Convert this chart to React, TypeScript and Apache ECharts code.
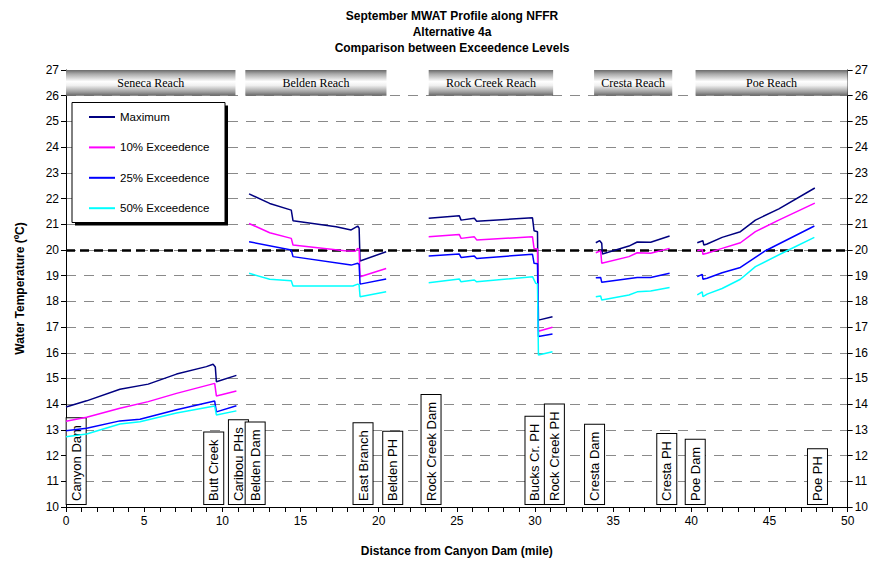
import React, { useEffect, useRef } from 'react';
import * as echarts from 'echarts';

const FONT = '"Liberation Sans", Arial, sans-serif';
const SERIF = '"Liberation Serif", "Times New Roman", serif';

const titleLines = ['September MWAT Profile along NFFR', 'Alternative 4a', 'Comparison between Exceedence Levels'];
const xAxisName = 'Distance from Canyon Dam (mile)';
const yAxisName = 'Water Temperature (ºC)';

const seriesNames = ['Maximum', '10% Exceedence', '25% Exceedence', '50% Exceedence'];
const seriesColors = ['#000080', '#ff00ff', '#0000ff', '#00ffff'];

const threshold = 20;
const yMin = 10;
const yMax = 27;

// [mile, temperature] points per reach segment
const maximumSegments = [
  [[0, 13.89], [1.32, 14.13], [3.45, 14.58], [5.26, 14.78], [7.07, 15.17], [8.98, 15.46], [9.41, 15.55], [9.55, 15.45], [9.62, 14.87], [10.9, 15.12]],
  [[11.71, 22.18], [13.03, 21.81], [14.41, 21.55], [14.52, 21.14], [17.28, 20.9], [18.24, 20.78], [18.66, 20.93], [18.75, 20.85], [18.81, 19.57], [20.48, 19.93]],
  [[23.2, 21.23], [25.16, 21.33], [25.27, 21.16], [26.12, 21.23], [26.27, 21.12], [29.84, 21.25], [29.94, 20.75], [30.16, 20.71], [30.22, 17.27], [31.12, 17.4]],
  [[33.89, 20.28], [34.14, 20.36], [34.27, 20.26], [34.31, 19.84], [36.01, 20.15], [36.54, 20.31], [37.4, 20.3], [38.61, 20.54]],
  [[40.38, 20.28], [40.74, 20.36], [40.8, 20.19], [41.01, 20.23], [41.97, 20.49], [43.14, 20.71], [44.1, 21.16], [45.6, 21.6], [47.9, 22.41]],
];
const exceed10Segments = [
  [[0, 13.34], [1.32, 13.49], [3.45, 13.84], [5.26, 14.1], [7.07, 14.42], [9.51, 14.81], [9.62, 14.32], [10.9, 14.51]],
  [[11.71, 21.03], [13.03, 20.67], [14.41, 20.45], [14.52, 20.19], [17.82, 19.97], [18.5, 19.95], [18.66, 20.06], [18.75, 20.03], [18.81, 18.96], [20.48, 19.28]],
  [[23.2, 20.51], [25.16, 20.6], [25.27, 20.45], [26.12, 20.51], [26.27, 20.39], [29.84, 20.51], [29.94, 20.06], [30.16, 20.04], [30.22, 16.84], [31.12, 16.99]],
  [[33.89, 19.89], [34.2, 19.97], [34.27, 19.48], [36.01, 19.74], [36.54, 19.89], [37.4, 19.87], [38.61, 20.06]],
  [[40.38, 19.97], [40.7, 20.02], [40.74, 19.83], [41.01, 19.87], [41.97, 20.06], [43.14, 20.28], [44.1, 20.71], [45.59, 21.16], [47.9, 21.82]],
];
const exceed25Segments = [
  [[0, 12.97], [1.32, 13.06], [3.45, 13.35], [4.73, 13.41], [7.07, 13.78], [9.51, 14.12], [9.62, 13.7], [10.9, 13.94]],
  [[11.71, 20.32], [14.41, 20.0], [14.52, 19.74], [18.24, 19.41], [18.66, 19.48], [18.75, 19.44], [18.81, 18.67], [20.48, 18.87]],
  [[23.2, 19.76], [25.16, 19.84], [25.27, 19.71], [26.12, 19.76], [26.27, 19.67], [29.84, 19.83], [29.94, 19.48], [30.16, 19.46], [30.22, 16.63], [31.12, 16.73]],
  [[33.89, 18.92], [34.2, 18.93], [34.27, 18.74], [36.54, 18.93], [37.4, 18.93], [38.61, 19.09]],
  [[40.38, 18.96], [40.7, 19.05], [40.74, 18.86], [41.01, 18.9], [41.97, 19.11], [43.14, 19.32], [44.1, 19.71], [44.74, 19.97], [47.87, 20.93]],
];
const exceed50Segments = [
  [[0, 12.73], [1.32, 12.84], [3.45, 13.23], [4.73, 13.32], [7.07, 13.66], [9.51, 13.93], [9.62, 13.58], [10.9, 13.74]],
  [[11.71, 19.09], [13.03, 18.86], [14.41, 18.8], [14.52, 18.6], [18.35, 18.6], [18.66, 18.67], [18.75, 18.64], [18.81, 18.18], [20.48, 18.37]],
  [[23.2, 18.72], [25.16, 18.87], [25.27, 18.76], [26.12, 18.83], [26.27, 18.76], [29.84, 18.96], [30.05, 18.7], [30.16, 18.68], [30.22, 15.91], [31.12, 16.04]],
  [[33.89, 18.18], [34.2, 18.21], [34.27, 18.05], [36.01, 18.25], [36.54, 18.37], [37.4, 18.4], [38.61, 18.54]],
  [[40.38, 18.25], [40.7, 18.37], [40.74, 18.18], [41.01, 18.28], [41.97, 18.5], [43.14, 18.86], [44.1, 19.35], [46.12, 19.97], [47.87, 20.49]],
];
const allSegments = [maximumSegments, exceed10Segments, exceed25Segments, exceed50Segments];

const reachNames = ['Seneca Reach', 'Belden Reach', 'Rock Creek Reach', 'Cresta Reach', 'Poe Reach'];
const reachStart = [0, 11.47, 23.2, 33.78, 40.27];
const reachEnd = [10.84, 20.5, 31.16, 38.78, 50];

const landmarkNames = ['Canyon Dam', 'Butt Creek', 'Caribou PHs', 'Belden Dam', 'East Branch', 'Belden PH', 'Rock Creek Dam', 'Bucks Cr. PH', 'Rock Creek PH', 'Cresta Dam', 'Cresta PH', 'Poe Dam', 'Poe PH'];
const landmarkMiles = [0.65, 9.45, 11.03, 12.1, 19.0, 20.9, 23.35, 30.0, 31.24, 33.81, 38.43, 40.25, 48.07];

function joinSegments(segs: number[][][]) {
  const out: any[] = [];
  segs.forEach((seg, i) => {
    if (i > 0) out.push([seg[0][0], null]);
    seg.forEach((p) => out.push(p));
  });
  return out;
}

export default function App() {
  const ref = useRef<HTMLDivElement>(null);
  useEffect(() => {
    if (!ref.current) return;
    const chart = echarts.init(ref.current, null, { renderer: 'svg' });

    const lineSeries: any[] = seriesNames.map((name, i) => ({
      name,
      type: 'line',
      data: joinSegments(allSegments[i]),
      symbol: 'none',
      connectNulls: false,
      lineStyle: { color: seriesColors[i], width: 1.5 },
      itemStyle: { color: seriesColors[i] },
      z: 5,
      markLine: i === 0 ? {
        symbol: 'none',
        silent: true,
        label: { show: false },
        lineStyle: { color: '#000', width: 2.5, type: [9, 5] },
        data: [{ yAxis: threshold }],
      } : undefined,
    }));

    const headerSeries = {
      type: 'custom',
      silent: true,
      z: 4,
      data: reachNames.map((_, i) => [reachStart[i], yMax, reachEnd[i], yMax - 1, i]),
      encode: { x: [0, 2], y: [1, 3] },
      renderItem: (params: any, api: any) => {
        const s = api.coord([api.value(0), api.value(1)]);
        const e = api.coord([api.value(2), api.value(3)]);
        const idx = api.value(4);
        return {
          type: 'group',
          children: [
            {
              type: 'rect',
              shape: { x: s[0], y: s[1], width: e[0] - s[0], height: e[1] - s[1] },
              style: {
                fill: new echarts.graphic.LinearGradient(0, 0, 0, 1, [
                  { offset: 0, color: '#6a6a6a' },
                  { offset: 0.15, color: '#a8a8a8' },
                  { offset: 0.45, color: '#ffffff' },
                  { offset: 0.6, color: '#f0f0f0' },
                  { offset: 0.85, color: '#a0a0a0' },
                  { offset: 1, color: '#666666' },
                ]),
              },
            },
            {
              type: 'text',
              x: (s[0] + e[0]) / 2,
              y: (s[1] + e[1]) / 2,
              style: {
                text: reachNames[idx],
                align: 'center',
                verticalAlign: 'middle',
                font: `12px ${SERIF}`,
                fill: '#000',
              },
            },
          ],
        };
      },
    };

    const landmarkSeries = {
      type: 'custom',
      silent: true,
      z: 3,
      data: landmarkMiles.map((m, i) => [m, yMin, i]),
      encode: { x: 0, y: 1 },
      renderItem: (params: any, api: any) => {
        const p = api.coord([api.value(0), api.value(1)]);
        const idx = api.value(2);
        return {
          type: 'text',
          x: p[0],
          y: p[1] - 3,
          rotation: Math.PI / 2,
          style: {
            text: landmarkNames[idx],
            align: 'left',
            verticalAlign: 'middle',
            font: `13px ${FONT}`,
            fill: '#000',
            backgroundColor: '#fff',
            borderColor: '#000',
            borderWidth: 1,
            padding: [3, 7, 3, 3],
          },
        };
      },
    };

    const axisLabelStyle = { color: '#000', fontFamily: FONT, fontSize: 12 };

    chart.setOption({
      animation: false,
      grid: { left: 66, right: 22, top: 70, bottom: 56, containLabel: false },
      graphic: [
        ...titleLines.map((t, i) => ({
          type: 'text',
          x: 452,
          y: 16 + i * 16,
          z: 10,
          style: { text: t, align: 'center', verticalAlign: 'middle', font: `bold 12px ${FONT}`, fill: '#000' },
        })),
        { type: 'rect', z: 9, shape: { x: 75, y: 105.5, width: 153, height: 120 }, style: { fill: '#000' } },
        { type: 'rect', z: 10, shape: { x: 72, y: 102.5, width: 153, height: 120 }, style: { fill: '#fff', stroke: '#000', lineWidth: 1 } },
      ],
      legend: {
        data: seriesNames,
        orient: 'vertical',
        left: 88,
        top: 111,
        padding: 0,
        itemWidth: 26,
        itemHeight: 14,
        itemGap: 18.4,
        z: 20,
        selectedMode: false,
        itemStyle: { opacity: 0 },
        textStyle: { color: '#000', fontFamily: FONT, fontSize: 11.5 },
      },
      xAxis: {
        type: 'value',
        min: 0,
        max: 50,
        interval: 5,
        name: xAxisName,
        nameLocation: 'middle',
        nameGap: 38,
        nameTextStyle: { color: '#000', fontFamily: FONT, fontSize: 12, fontWeight: 'bold' },
        axisLine: { show: true, lineStyle: { color: '#000', width: 1 } },
        axisTick: { show: true, length: 5, lineStyle: { color: '#000' } },
        minorTick: { show: true, splitNumber: 5, length: 5, lineStyle: { color: '#000' } },
        axisLabel: { ...axisLabelStyle, margin: 8 },
        splitLine: { show: false },
      },
      yAxis: [
        {
          type: 'value',
          min: yMin,
          max: yMax,
          interval: 1,
          position: 'left',
          name: yAxisName,
          nameLocation: 'middle',
          nameGap: 40,
          nameTextStyle: { color: '#000', fontFamily: FONT, fontSize: 12, fontWeight: 'bold' },
          axisLine: { show: true, lineStyle: { color: '#000', width: 1 } },
          axisTick: { show: true, length: 5, lineStyle: { color: '#000' } },
          axisLabel: { ...axisLabelStyle, margin: 7 },
          splitLine: { show: true, showMinLine: false, showMaxLine: false, lineStyle: { color: '#8a8a8a', width: 1, type: [10, 8] } },
        },
        {
          type: 'value',
          min: yMin,
          max: yMax,
          interval: 1,
          position: 'right',
          axisLine: { show: true, lineStyle: { color: '#000', width: 1 } },
          axisTick: { show: true, length: 5, lineStyle: { color: '#000' } },
          axisLabel: { ...axisLabelStyle, margin: 7 },
          splitLine: { show: false },
        },
      ],
      series: [...lineSeries, headerSeries, landmarkSeries],
    });
    return () => chart.dispose();
  }, []);
  return <div ref={ref} style={{ position: 'fixed', left: 0, top: 0, width: 871, height: 563, background: '#fff' }} />;
}
